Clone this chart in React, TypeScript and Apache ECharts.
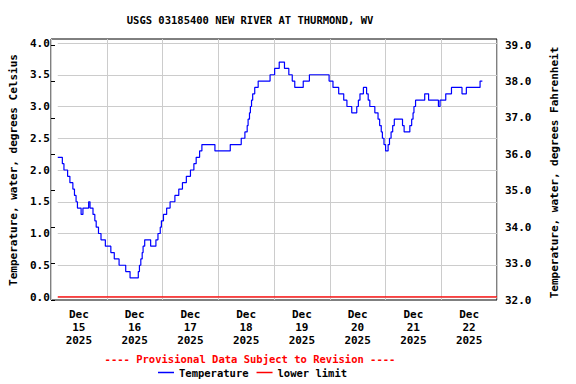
import React, { useEffect, useRef } from "react";
import * as echarts from "echarts";

const titleText = "USGS 03185400 NEW RIVER AT THURMOND, WV";
const provisionalText = "---- Provisional Data Subject to Revision ----";
const leftAxisName = "Temperature, water, degrees Celsius";
const rightAxisName = "Temperature, water, degrees Fahrenheit";
const dayLabels = [
  "Dec\n15\n2025",
  "Dec\n16\n2025",
  "Dec\n17\n2025",
  "Dec\n18\n2025",
  "Dec\n19\n2025",
  "Dec\n20\n2025",
  "Dec\n21\n2025",
  "Dec\n22\n2025",
];

// hours since Dec 15 00:00 at which each value begins
const tempHours = [
  0, 2.0, 2.7, 4.3, 5.3, 6.6, 7.3, 8.0, 8.6, 10.2, 11.0, 13.5, 14.1, 15.4, 16.2, 16.8, 17.8, 18.9, 20.8,
  23.2, 24.7, 26.8, 29.7, 31.6, 35.2, 35.7, 36.3, 36.9, 37.3, 38.0, 40.6, 42.9, 43.8, 44.8, 45.3, 46.2, 47.6,
  49.1, 51.2, 52.9, 54.5, 56.2, 58.0, 59.5, 60.5, 62.0, 63.0, 68.7, 75.4, 80.2, 81.8, 82.8, 83.2, 83.8, 84.2,
  84.7, 85.2, 86.1, 87.6, 92.8, 94.8, 96.8, 99.1, 101.0, 102.5, 103.6, 107.3, 110.0, 118.6, 120.3, 122.8,
  125.0, 126.4, 128.5, 130.7, 131.4, 132.1, 133.6, 135.0, 135.7, 136.4, 138.6, 140.0, 140.7, 141.4, 141.9,
  142.6, 143.3, 144.4, 145.0, 145.7, 146.4, 147.1, 150.7, 151.4, 153.9, 154.7, 155.3, 155.7, 156.4, 160.4,
  162.1, 166.4, 167.1, 169.6, 172.1, 176.7, 178.6, 184.6, 185.6,
];
const tempValues = [
  2.2, 2.1, 2.0, 1.9, 1.8, 1.7, 1.6, 1.5, 1.4, 1.3, 1.4, 1.5, 1.4, 1.3, 1.2, 1.1, 1.0, 0.9, 0.8,
  0.7, 0.6, 0.5, 0.4, 0.3, 0.4, 0.5, 0.6, 0.7, 0.8, 0.9, 0.8, 0.9, 1.0, 1.1, 1.2, 1.3, 1.4,
  1.5, 1.6, 1.7, 1.8, 1.9, 2.0, 2.1, 2.2, 2.3, 2.4, 2.3, 2.4, 2.5, 2.6, 2.7, 2.8, 2.9, 3.0,
  3.1, 3.2, 3.3, 3.4, 3.5, 3.6, 3.7, 3.6, 3.5, 3.4, 3.3, 3.4, 3.5, 3.4, 3.3, 3.2,
  3.1, 3.0, 2.9, 3.0, 3.1, 3.2, 3.3, 3.2, 3.1, 3.0, 2.9, 2.8, 2.7, 2.6, 2.5,
  2.4, 2.3, 2.4, 2.5, 2.6, 2.7, 2.8, 2.7, 2.6, 2.7, 2.8, 2.9, 3.0, 3.1, 3.2,
  3.1, 3.0, 3.1, 3.2, 3.3, 3.2, 3.3, 3.4, 3.4,
];
const limitHours = [0, 192];
const limitValues = [0, 0];

const FONT = "'DejaVu Sans Mono', monospace";

export default function App() {
  const ref = useRef<HTMLDivElement>(null);
  useEffect(() => {
    if (!ref.current) return;
    const chart = echarts.init(ref.current, undefined, { renderer: "svg" });
    const tickText = { fontFamily: FONT, fontWeight: "bold" as const, fontSize: 11, color: "#000" };
    const gridColor = "#cccccc";
    const L = 51;
    const W = 446;
    chart.setOption({
      animation: false,
      backgroundColor: "#fff",
      grid: [
        { left: L, width: W, top: 43, height: 254 },
        { left: L, width: W, top: 45, height: 255 },
        { left: L, width: W, top: 39, height: 261, show: true, borderColor: "#000", borderWidth: 1, z: 0 },
      ],
      xAxis: [
        { type: "value", gridIndex: 0, min: 0, max: 192, show: false },
        { type: "value", gridIndex: 1, min: 0, max: 192, show: false },
        {
          type: "value", gridIndex: 2, min: 0, max: 192, interval: 24,
          axisLine: { show: false }, axisTick: { show: false }, axisLabel: { show: false },
          splitLine: { show: true, lineStyle: { color: gridColor, width: 1 } },
        },
        {
          type: "value", gridIndex: 2, min: 0, max: 192, interval: 12, position: "bottom",
          axisLine: { show: false }, axisTick: { show: false }, splitLine: { show: false },
          axisLabel: {
            ...tickText, lineHeight: 13, margin: 8, showMinLabel: true, showMaxLabel: true,
            formatter: (v: number) => {
              const k = Math.round(v / 12);
              if (k % 2 === 1) return dayLabels[(k - 1) / 2] ?? "";
              return "";
            },
          },
        },
      ],
      yAxis: [
        {
          type: "value", gridIndex: 0, min: 0, max: 4, interval: 0.5, position: "left",
          axisLine: { show: false }, axisTick: { show: false },
          axisLabel: { ...tickText, margin: 8, formatter: (v: number) => v.toFixed(1) },
          splitLine: { show: true, lineStyle: { color: gridColor, width: 1 } },
          name: leftAxisName, nameLocation: "middle", nameGap: 38, nameRotate: 90,
          nameTextStyle: { fontFamily: FONT, fontWeight: "bold", fontSize: 11, color: "#000" },
        },
        {
          type: "value", gridIndex: 1, min: 32, max: 39, interval: 1, position: "right",
          axisLine: { show: false },
          axisTick: { show: true, length: 4, lineStyle: { color: "#000" } },
          axisLabel: { ...tickText, margin: 8, formatter: (v: number) => v.toFixed(1) },
          splitLine: { show: false },
          name: rightAxisName, nameLocation: "middle", nameGap: 52, nameRotate: 90,
          nameTextStyle: { fontFamily: FONT, fontWeight: "bold", fontSize: 11, color: "#000" },
        },
        { type: "value", gridIndex: 2, min: 0, max: 1, show: false },
      ],
      legend: {
        left: 158, top: 367, padding: 0, itemWidth: 16, itemHeight: 1.5, itemGap: 8,
        icon: "rect",
        textStyle: { fontFamily: FONT, fontWeight: "bold", fontSize: 10.5, color: "#000" },
        data: ["Temperature", "lower limit"],
      },
      graphic: [
        {
          type: "text", x: 250, y: 20,
          style: { text: titleText, fontFamily: FONT, fontWeight: "bold", fontSize: 10.5, fill: "#000", align: "center", verticalAlign: "middle" },
        },
        {
          type: "text", x: 250, y: 359,
          style: { text: provisionalText, fontFamily: FONT, fontWeight: "bold", fontSize: 10.5, fill: "#ff0000", align: "center", verticalAlign: "middle" },
        },
      ],
      series: [
        {
          name: "Temperature", type: "line", xAxisIndex: 0, yAxisIndex: 0, step: "end",
          symbol: "none", showSymbol: false, z: 3,
          lineStyle: { color: "#0000ff", width: 1.2 }, itemStyle: { color: "#0000ff" },
          data: tempHours.map((h, i) => [h, tempValues[i]]),
        },
        {
          name: "lower limit", type: "line", xAxisIndex: 0, yAxisIndex: 0,
          symbol: "none", showSymbol: false, z: 2,
          lineStyle: { color: "#ff0000", width: 1.5 }, itemStyle: { color: "#ff0000" },
          data: limitHours.map((h, i) => [h, limitValues[i]]),
        },
      ],
    });
    return () => chart.dispose();
  }, []);
  return (
    <div
      ref={ref}
      style={{ position: "absolute", left: 0, top: 0, width: 576, height: 384, background: "#fff" }}
    />
  );
}
